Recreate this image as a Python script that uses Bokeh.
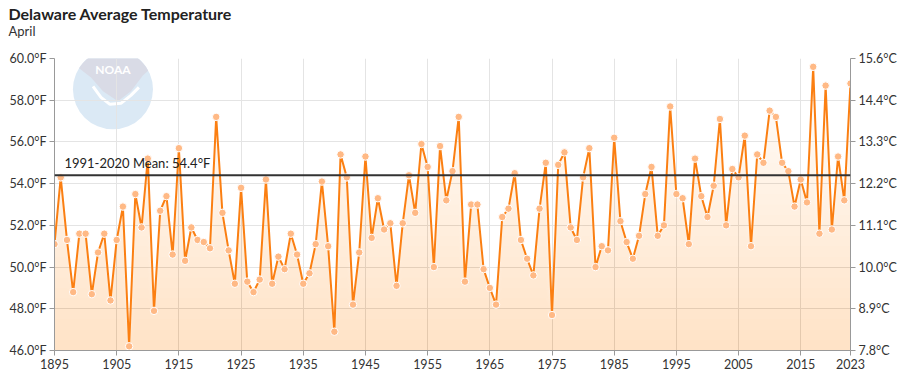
import numpy as np
from bokeh.plotting import figure
from bokeh.models import (Range1d, LinearAxis, FixedTicker, PrintfTickFormatter,
                          Span, Label, Title, ColumnDataSource)
from bokeh.embed import file_html
from bokeh.resources import INLINE

# ---------------- data ----------------
years = list(range(1895, 2024))
temps_f = [
    51.1, 54.3, 51.3, 48.8, 51.6,                                  # 1895-1899
    51.6, 48.7, 50.7, 51.6, 48.4, 51.3, 52.9, 46.2, 53.5, 51.9,    # 1900s
    55.2, 47.9, 52.7, 53.4, 50.6, 55.7, 50.3, 51.9, 51.3, 51.2,    # 1910s
    50.9, 57.2, 52.6, 50.8, 49.2, 53.8, 49.3, 48.8, 49.4, 54.2,    # 1920s
    49.2, 50.5, 49.9, 51.6, 50.6, 49.2, 49.7, 51.1, 54.1, 51.0,    # 1930s
    46.9, 55.4, 54.3, 48.2, 50.7, 55.3, 51.4, 53.3, 51.8, 52.1,    # 1940s
    49.1, 52.1, 54.4, 52.6, 55.9, 54.8, 50.0, 55.8, 53.2, 54.6,    # 1950s
    57.2, 49.3, 53.0, 53.0, 49.9, 49.0, 48.2, 52.4, 52.8, 54.5,    # 1960s
    51.3, 50.4, 49.6, 52.8, 55.0, 47.7, 54.9, 55.5, 51.9, 51.3,    # 1970s
    54.3, 55.7, 50.0, 51.0, 50.8, 56.2, 52.2, 51.2, 50.4, 51.5,    # 1980s
    53.5, 54.8, 51.5, 52.0, 57.7, 53.5, 53.3, 51.1, 55.2, 53.4,    # 1990s
    52.4, 53.9, 57.1, 52.0, 54.7, 54.3, 56.3, 51.0, 55.4, 55.0,    # 2000s
    57.5, 57.2, 55.0, 54.6, 52.9, 54.2, 53.1, 59.6, 51.6, 58.7,    # 2010s
    51.8, 55.3, 53.2, 58.8,                                        # 2020s
]
mean_1991_2020 = 54.4
x_ticks = [1895, 1905, 1915, 1925, 1935, 1945, 1955, 1965, 1975, 1985, 1995, 2005, 2015, 2023]
y_ticks_f = [46, 48, 50, 52, 54, 56, 58, 60]
title_text = "Delaware Average Temperature"
subtitle_text = "April"
mean_label = "1991-2020 Mean: 54.4°F"

FONT = "Lato"

def f_to_c(f):
    return (f - 32.0) * 5.0 / 9.0

# ---------------- figure ----------------
W, H = 899, 383
BL, BR, BT, BB = 54, 47, 57, 33
p = figure(width=W, height=H, output_backend="svg", toolbar_location=None,
           x_range=Range1d(1895, 2023), y_range=Range1d(46, 60),
           min_border_left=BL, min_border_right=BR, min_border_top=BT, min_border_bottom=BB)
p.outline_line_color = None
p.background_fill_color = "white"

p.add_layout(Title(text=subtitle_text, align="left", text_font=FONT, text_font_size="13px",
                   text_font_style="normal", text_color="#333333", offset=-(BL - 8),
                   standoff=40), "above")
p.add_layout(Title(text=title_text, align="left", text_font=FONT, text_font_size="16px",
                   text_font_style="bold", text_color="#222222", offset=-(BL - 8),
                   standoff=-44), "above")

# ---------------- NOAA watermark (decoration) ----------------
px_per_year = (W - BL - BR) / 128.0
px_per_deg = (H - BT - BB) / 14.0
cx, cy = 1904.4, 58.52
def rel(dx_px, dy_px_up):
    return cx + dx_px / px_per_year, cy + dy_px_up / px_per_deg

p.circle(x=[cx], y=[cy], radius=40, radius_units="screen", fill_color="#dbe9f5",
         line_color=None, level="underlay")
ang = np.radians(np.linspace(28, 148, 30))
gx = list(40 * np.cos(ang)) + [-22, -10, 5, 18, 30]
gy = list(40 * np.sin(ang)) + [12, -2, -12, -2, 14]
gpts = [rel(a, b) for a, b in zip(gx, gy)]
p.patch(x=[g[0] for g in gpts], y=[g[1] for g in gpts], fill_color="#d9dbe6",
        line_color=None, level="underlay")
spts = [rel(a, b) for a, b in [(-20, 3), (-12, -8), (-3, -15), (8, -14), (18, -6), (26, 2)]]
p.line(x=[s[0] for s in spts], y=[s[1] for s in spts], line_color="white", line_width=3,
       level="underlay")
p.add_layout(Label(x=cx, y=cy, y_offset=20, text="NOAA", text_align="center",
                   text_baseline="middle", text_font=FONT, text_font_style="bold",
                   text_font_size="12px", text_color="white", level="underlay"))

# ---------------- gradient-like area fill ----------------
yrs = np.array(years, dtype=float)
tf = np.array(temps_f, dtype=float)
levels = np.arange(46.5, 60.01, 0.5)
for L in levels:
    p.varea(x=yrs, y1=46, y2=np.minimum(tf, L), fill_color="#f98a3c", fill_alpha=0.011)

# ---------------- line + markers ----------------
src = ColumnDataSource(dict(year=years, temp=temps_f))
p.line("year", "temp", source=src, line_color="#fb7f12", line_width=2)
p.scatter("year", "temp", source=src, size=7.5, fill_color="#ffb985", line_color="white",
          line_width=1)

# mean line
p.add_layout(Span(location=mean_1991_2020, dimension="width", line_color="#333333",
                  line_width=2))
p.add_layout(Label(x=1896.6, y=mean_1991_2020, y_offset=4, text=mean_label,
                   text_font=FONT, text_font_size="13px", text_color="#222222",
                   text_baseline="bottom"))

# ---------------- axes ----------------
p.xaxis.ticker = FixedTicker(ticks=x_ticks)
p.yaxis.ticker = FixedTicker(ticks=y_ticks_f)
p.yaxis.formatter = PrintfTickFormatter(format="%.1f°F")

p.extra_y_ranges = {"c": Range1d(f_to_c(46), f_to_c(60))}
c_axis = LinearAxis(y_range_name="c", ticker=FixedTicker(ticks=[f_to_c(t) for t in y_ticks_f]),
                    formatter=PrintfTickFormatter(format="%.1f°C"))
p.add_layout(c_axis, "right")

for ax in [p.xaxis[0], p.yaxis[0], c_axis]:
    ax.axis_line_color = "#999999"
    ax.axis_line_width = 1
    ax.major_tick_line_color = "#999999"
    ax.major_tick_out = 5
    ax.major_tick_in = 0
    ax.minor_tick_line_color = None
    ax.major_label_text_font = FONT
    ax.major_label_text_font_size = "12.5px"
    ax.major_label_text_color = "#333333"
    ax.major_label_standoff = 3

p.xgrid.grid_line_color = "#e4e4e4"
p.ygrid.grid_line_color = "#e4e4e4"
p.xgrid.grid_line_width = 1
p.ygrid.grid_line_width = 1

open("out.html", "w").write(file_html(p, INLINE))
